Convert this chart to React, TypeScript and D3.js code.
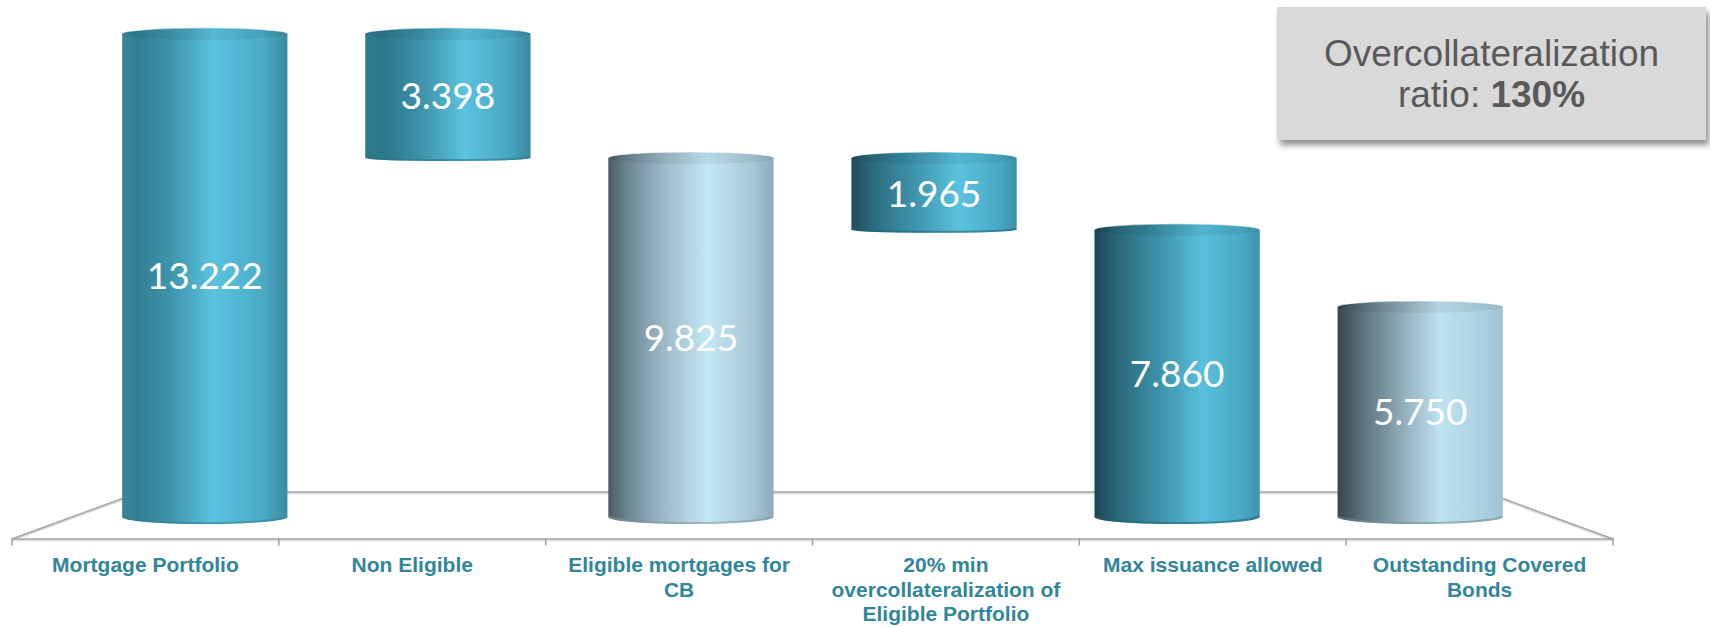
import { useMemo } from 'react';
import * as d3 from 'd3';

// ---- data ----
const categories = [
    'Mortgage Portfolio',
    'Non Eligible',
    'Eligible mortgages for CB',
    '20% min overcollateralization of Eligible Portfolio',
    'Max issuance allowed',
    'Outstanding Covered Bonds',
];
const categoryLines = [
    ['Mortgage Portfolio'],
    ['Non Eligible'],
    ['Eligible mortgages for', 'CB'],
    ['20% min', 'overcollateralization of', 'Eligible Portfolio'],
    ['Max issuance allowed'],
    ['Outstanding Covered', 'Bonds'],
];
const values = [13.222, 3.398, 9.825, 1.965, 7.86, 5.75];
// 'total' bars stand on the floor, 'decrease' bars float down from the running level
const kinds = ['total', 'decrease', 'total', 'decrease', 'total', 'total'];
const ratioLabel = 'Overcollateralization';
const ratioPrefix = 'ratio: ';
const ratioValue = '130%';

// ---- styles ----
const palettes: [number, string][][] = [
    [[0, '#3a8599'], [0.1, '#327f93'], [0.3, '#3f95ac'], [0.55, '#5bc3e0'], [0.85, '#4aabc6'], [1, '#3c8ba1']],
    [[0, '#2f7a8d'], [0.12, '#2d778b'], [0.35, '#3e94ab'], [0.6, '#5bc3e0'], [0.88, '#47a6c0'], [1, '#3a879c']],
    [[0, '#4c5b64'], [0.12, '#6d8694'], [0.32, '#9ab6c4'], [0.6, '#c3e7f5'], [0.86, '#a8c9d8'], [1, '#8eacbb']],
    [[0, '#1f4d5a'], [0.15, '#2b6f82'], [0.4, '#3f97af'], [0.65, '#5ac2df'], [0.9, '#48a9c3'], [1, '#3d8fa5']],
    [[0, '#1d4754'], [0.15, '#2a6a7c'], [0.4, '#3d93ab'], [0.65, '#58c0dd'], [0.9, '#48a8c2'], [1, '#3f92a9']],
    [[0, '#37454d'], [0.15, '#5a727d'], [0.38, '#8eaab7'], [0.62, '#bee2ef'], [0.88, '#abd0df'], [1, '#9fc3d2']],
];
const rimColors = ['#2f7f93', '#2a7386', '#7b96a4', '#23606f', '#24606f', '#6f8c99'];
const labelColor = '#31869b';
const width = 1710;
const height = 627;
const floorFront = 539;
const floorBack = 492;
const axisLeft = 12;
const axisRight = 1613;
const depthRatio = 0.911;
const backRatio = 0.84;
const ry = 6;

export default function App() {
    const fmt = d3.format('.3f');

    const xFront = useMemo(
        () => d3.scaleBand<string>().domain(categories).range([axisLeft, axisRight]),
        []
    );
    const xBar = useMemo(() => {
        const mid = (axisLeft + axisRight) / 2;
        const half = ((axisRight - axisLeft) / 2) * depthRatio;
        return d3
            .scaleBand<string>()
            .domain(categories)
            .range([mid - half, mid + half])
            .paddingInner(0.32)
            .paddingOuter(0.16);
    }, []);
    const y = useMemo(() => d3.scaleLinear().domain([0, 14]).range([517, 517 - 14 * 36.54]), []);

    const bars = useMemo(() => {
        let level = 0;
        return categories.map((c, i) => {
            let lo: number;
            let hi: number;
            if (kinds[i] === 'total') {
                lo = 0;
                hi = values[i];
                level = values[i];
            } else {
                hi = level;
                lo = level - values[i];
                level = lo;
            }
            const x0 = xBar(c) || 0;
            const x1 = x0 + xBar.bandwidth();
            return { c, i, x0, x1, yTop: y(hi), yBot: y(lo), floating: lo > 0 };
        });
    }, [xBar, y]);

    const mid = (axisLeft + axisRight) / 2;
    const backHalf = ((axisRight - axisLeft) / 2) * backRatio;
    const ticks = [...categories.map((c) => xFront(c) || 0), axisRight];

    return (
        <svg
            width={width}
            height={height}
            viewBox={`0 0 ${width} ${height}`}
            style={{ position: 'absolute', left: 0, top: 0, background: '#fff' }}
        >
            <defs>
                {palettes.map((stops, i) => (
                    <linearGradient key={i} id={`g${i}`} x1="0" x2="1" y1="0" y2="0">
                        {stops.map(([o, col], j) => (
                            <stop key={j} offset={o} stopColor={col} />
                        ))}
                    </linearGradient>
                ))}
                <filter id="boxShadow" x="-10%" y="-10%" width="125%" height="135%">
                    <feGaussianBlur in="SourceAlpha" stdDeviation="3" />
                    <feOffset dx="3" dy="5" result="b" />
                    <feComponentTransfer>
                        <feFuncA type="linear" slope="0.45" />
                    </feComponentTransfer>
                    <feMerge>
                        <feMergeNode />
                        <feMergeNode in="SourceGraphic" />
                    </feMerge>
                </filter>
            </defs>

            {/* floor */}
            <g fill="none" strokeLinecap="round">
                <path
                    d={`M${axisLeft},${floorFront + 1.5}L${mid - backHalf},${floorBack + 1.5}L${mid + backHalf},${floorBack + 1.5}L${axisRight},${floorFront + 1.5}`}
                    stroke="#dcdcdc"
                    strokeWidth={1.5}
                />
                <path
                    d={`M${axisLeft},${floorFront}L${mid - backHalf},${floorBack}L${mid + backHalf},${floorBack}L${axisRight},${floorFront}`}
                    stroke="#a3a3a3"
                    strokeWidth={1.5}
                />
                <line x1={axisLeft} x2={axisRight} y1={floorFront + 1.5} y2={floorFront + 1.5} stroke="#dcdcdc" strokeWidth={1.5} />
                <line x1={axisLeft} x2={axisRight} y1={floorFront} y2={floorFront} stroke="#a3a3a3" strokeWidth={1.5} />
                {ticks.map((t, i) => (
                    <line key={i} x1={t} x2={t} y1={floorFront} y2={floorFront + 6} stroke="#a3a3a3" strokeWidth={1.5} />
                ))}
            </g>

            {/* cylinders */}
            {bars.map((b) => {
                const cx = (b.x0 + b.x1) / 2;
                const rx = (b.x1 - b.x0) / 2;
                const rb = b.floating ? 3 : 7;
                const side = `M${b.x0},${b.yTop}L${b.x0},${b.yBot}A${rx},${rb} 0 0 0 ${b.x1},${b.yBot}L${b.x1},${b.yTop}Z`;
                return (
                    <g key={b.c}>
                        <path d={side} fill={`url(#g${b.i})`} />
                        <path
                            d={`M${b.x0 + 1},${b.yBot - 1}A${rx - 1},${rb} 0 0 0 ${b.x1 - 1},${b.yBot - 1}`}
                            fill="none"
                            stroke={rimColors[b.i]}
                            strokeOpacity={0.55}
                            strokeWidth={2}
                        />
                        <ellipse cx={cx} cy={b.yTop} rx={rx} ry={ry} fill={`url(#g${b.i})`} />
                        <ellipse cx={cx} cy={b.yTop} rx={rx} ry={ry} fill="#000" fillOpacity={0.06} />
                        <path
                            d={`M${b.x0},${b.yTop}A${rx},${ry} 0 0 1 ${b.x1},${b.yTop}`}
                            fill="none"
                            stroke="#ffffff"
                            strokeOpacity={0.45}
                            strokeWidth={1.2}
                        />
                        <text
                            x={cx}
                            y={(b.yTop + b.yBot) / 2}
                            dy="0.36em"
                            textAnchor="middle"
                            fill="#fff"
                            fontFamily="Lato, 'Open Sans', sans-serif"
                            fontSize={37}
                        >
                            {fmt(values[b.i])}
                        </text>
                    </g>
                );
            })}

            {/* category labels */}
            <g fontFamily="'Liberation Sans', Arial, sans-serif" fontWeight="bold" fontSize={21} fill={labelColor} textAnchor="middle">
                {categories.map((c, i) => (
                    <text key={c} x={(xFront(c) || 0) + xFront.bandwidth() / 2} y={572}>
                        {categoryLines[i].map((ln, j) => (
                            <tspan key={j} x={(xFront(c) || 0) + xFront.bandwidth() / 2} dy={j === 0 ? 0 : 24.5}>
                                {ln}
                            </tspan>
                        ))}
                    </text>
                ))}
            </g>

            {/* ratio box */}
            <g filter="url(#boxShadow)">
                <rect x={1277} y={7} width={429} height={133} fill="#d9d9d9" />
            </g>
            <g fontFamily="'Liberation Sans', Arial, sans-serif" fontSize={37} fill="#595959" textAnchor="middle">
                <text x={1491.5} y={66}>
                    {ratioLabel}
                </text>
                <text x={1491.5} y={107}>
                    {ratioPrefix}
                    <tspan fontWeight="bold">{ratioValue}</tspan>
                </text>
            </g>
        </svg>
    );
}
